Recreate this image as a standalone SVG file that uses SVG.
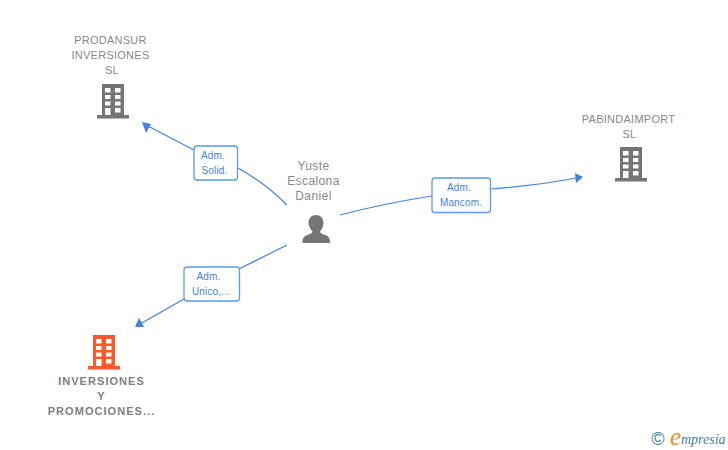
<svg xmlns="http://www.w3.org/2000/svg" width="728" height="450" viewBox="0 0 728 450">
<style>
.n{font-family:"Liberation Sans",Arial,sans-serif;font-size:11px;fill:#888;text-anchor:middle;letter-spacing:.25px}
.b{font-weight:bold;fill:#808080;letter-spacing:1.05px}
.p{font-size:12px;letter-spacing:.4px}
.e{fill:none;stroke:#3f83df;stroke-width:1.2}
.h{fill:#3f83df}
.lb{fill:#fff;stroke:#5b9be8;stroke-width:1.3}
.lt{font-family:"Liberation Sans",Arial,sans-serif;font-size:10px;fill:#3f83df;text-anchor:middle;letter-spacing:.15px}
</style>
<defs>
<path id="bld" fill-rule="evenodd" d="M5 0H27V31H32V34.500H0V31H5ZM8 4V8.500H13.500V4ZM18 4V8.500H23.500V4ZM8 11V15H13.500V11ZM18 11V15H23.500V11ZM8 17.500V21.500H13.500V17.500ZM18 17.500V21.500H23.500V17.500ZM8 24V31H13.500V24ZM18 24V28.500H23.500V24Z"/>
</defs>
<g id="connectors">
<path class="e" d="M287 205C272 190 256 178 238 168"/>
<path class="e" d="M194 150L146 125"/>
<path class="h" d="M142 122L151 124L146 133Z"/>
<path class="e" d="M340 215C370 207 400 201 432 196"/>
<path class="e" d="M491 189C520 187 550 183 577 178"/>
<path class="h" d="M583 177L575 173L576 183Z"/>
<path class="e" d="M287 245L239 269"/>
<path class="e" d="M184 299L140 324"/>
<path class="h" d="M135 327L144 327L139 318Z"/>
</g>
<g id="label-solid"><rect class="lb" x="194" y="146" width="43.500" height="34" rx="3"/><text class="lt" x="213" y="159">Adm.</text><text class="lt" x="214.500" y="174">Solid.</text></g>
<g id="label-unico"><rect class="lb" x="184" y="267" width="55.500" height="34" rx="3"/><text class="lt" x="208.500" y="280">Adm.</text><text class="lt" x="211" y="295">Unico,...</text></g>
<g id="label-mancom"><rect class="lb" x="432" y="178" width="58.500" height="34.500" rx="3"/><text class="lt" x="459" y="191">Adm.</text><text class="lt" x="461" y="206">Mancom.</text></g>
<g id="node-prodansur"><text class="n" x="110.500" y="44">PRODANSUR</text><text class="n" x="110.500" y="59">INVERSIONES</text><text class="n" x="112" y="74">SL</text><use href="#bld" x="97" y="84" fill="#757575"/></g>
<g id="node-pabindaimport"><text class="n" x="628.500" y="123">PABINDAIMPORT</text><text class="n" x="629.500" y="138">SL</text><use href="#bld" x="615" y="147" fill="#757575"/></g>
<g id="node-inversiones"><use href="#bld" x="88" y="335" fill="#ff5a2b"/><text class="n b" x="101.500" y="385">INVERSIONES</text><text class="n b" x="101.500" y="400">Y</text><text class="n b" x="101.500" y="415">PROMOCIONES...</text></g>
<g id="node-yuste"><text class="n p" x="313.500" y="170">Yuste</text><text class="n p" x="313.500" y="185">Escalona</text><text class="n p" x="313.500" y="200">Daniel</text><path fill="#757575" d="M316 215C320.500 215 323.500 218.500 323.500 223C323.500 227 321.500 229.500 320 231.500C320 233 322 234 325 235C329 236.500 330 238 330 243H302.500C302.500 238 303.500 236.500 307.500 235C310.500 234 312.500 233 312.500 231.500C311 229.500 308.500 227 308.500 223C308.500 218.500 311.500 215 316 215Z"/></g>
<g id="logo"><text x="658" y="445" font-family="Liberation Sans,sans-serif" font-size="18" fill="#3f7f93" text-anchor="middle">©</text><text x="670" y="445" font-family="Liberation Serif,serif" font-size="25" font-style="italic" fill="#f08a1d">e</text><text x="681" y="444" font-family="Liberation Serif,serif" font-size="14" font-style="italic" fill="#3f7f93">mpresia</text></g>
</svg>
